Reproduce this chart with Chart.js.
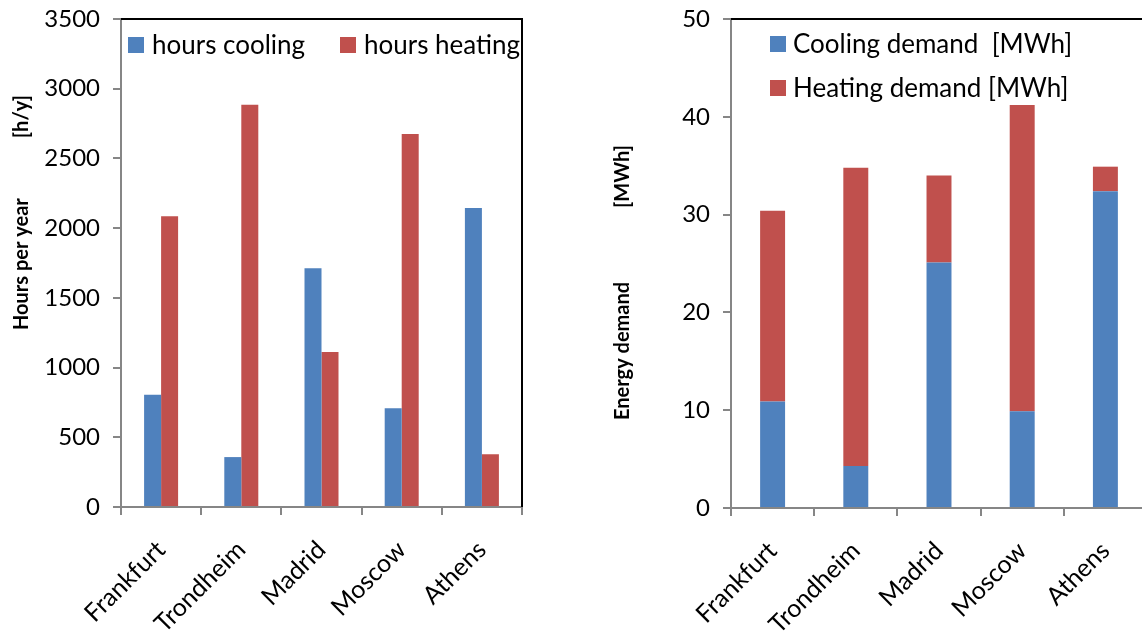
<!DOCTYPE html>
<html>
<head>
<meta charset="utf-8">
<script src="https://cdn.jsdelivr.net/npm/chart.js@4/dist/chart.umd.min.js"></script>
<style>
  html, body { margin: 0; padding: 0; background: #fff; overflow: hidden; width: 1142px; height: 634px; }
  .box { position: absolute; top: 0; height: 634px; }
  #hoursBox { left: 0; width: 545px; }
  #demandBox { left: 600px; width: 560px; }
</style>
</head>
<body>
<div id="hoursBox" class="box"><canvas id="hours"></canvas></div>
<div id="demandBox" class="box"><canvas id="demand"></canvas></div>
<script>
// Cities compared
const cities = ['Frankfurt', 'Trondheim', 'Madrid', 'Moscow', 'Athens'];

// Operating hours per year [h/y]
const hoursCooling = [805, 358, 1713, 709, 2145];
const hoursHeating = [2085, 2885, 1112, 2675, 379];
const hoursTicks = [0, 500, 1000, 1500, 2000, 2500, 3000, 3500];

// Annual energy demand [MWh]
const coolingDemand = [10.9, 4.3, 25.1, 9.9, 32.4];
const heatingDemand = [19.5, 30.5, 8.9, 31.3, 2.5];
const demandTicks = [0, 10, 20, 30, 40, 50];

const BLUE = '#4F81BD';
const RED = '#C0504D';
const AXIS = '#868686';
const FONT = 'Lato';

// Black frame along the top and right of the plot area
const framePlugin = {
  id: 'frame',
  afterDatasetsDraw(chart) {
    const { ctx, chartArea: a } = chart;
    ctx.save();
    ctx.strokeStyle = '#000';
    ctx.lineWidth = 2;
    ctx.beginPath();
    ctx.moveTo(a.left, a.top);
    ctx.lineTo(a.right, a.top);
    ctx.lineTo(a.right, a.bottom);
    ctx.stroke();
    ctx.restore();
  }
};

// Legend drawn inside the plot area
const innerLegend = {
  id: 'innerLegend',
  afterDraw(chart, args, o) {
    const ctx = chart.ctx;
    ctx.save();
    ctx.font = o.font;
    ctx.textBaseline = 'middle';
    ctx.textAlign = 'left';
    chart.data.datasets.forEach((ds, i) => {
      const it = o.items[i];
      ctx.fillStyle = ds.backgroundColor;
      ctx.fillRect(it.x, it.y, o.box, o.box);
      ctx.fillStyle = '#000';
      ctx.fillText(ds.label, it.x + o.gap, it.y + o.box / 2 + 1);
    });
    ctx.restore();
  }
};

// Rotated y-axis title: main text plus unit further up
const sideTitle = {
  id: 'sideTitle',
  afterDraw(chart, args, o) {
    const ctx = chart.ctx;
    ctx.save();
    ctx.font = o.font;
    ctx.fillStyle = '#000';
    ctx.textBaseline = 'middle';
    ctx.translate(o.x, o.bottom);
    ctx.rotate(-Math.PI / 2);
    ctx.textAlign = 'left';
    ctx.fillText(o.text, 0, 0);
    ctx.restore();
    ctx.save();
    ctx.font = o.font;
    ctx.fillStyle = '#000';
    ctx.textBaseline = 'middle';
    ctx.translate(o.x, o.top);
    ctx.rotate(-Math.PI / 2);
    ctx.textAlign = 'right';
    ctx.fillText(o.unit, 0, 0);
    ctx.restore();
  }
};

function yScale(ticksList, axisWidth) {
  return {
    min: ticksList[0],
    max: ticksList[ticksList.length - 1],
    afterBuildTicks(s) { s.ticks = ticksList.map(v => ({ value: v })); },
    ticks: {
      padding: 13, color: '#000', font: { family: FONT, size: 24 },
      callback: v => String(v)
    },
    grid: { drawOnChartArea: false, drawTicks: true, tickLength: 8, color: AXIS, lineWidth: 2 },
    border: { color: AXIS, width: 2 },
    afterFit(s) { s.width = axisWidth; s.paddingTop = 0; s.paddingBottom = 0; }
  };
}

function xScale(axisHeight, stacked) {
  return {
    stacked: stacked,
    ticks: { minRotation: 45, maxRotation: 45, autoSkip: false, padding: 20, color: '#000', font: { family: FONT, size: 25 } },
    grid: { offset: true, drawOnChartArea: false, drawTicks: true, tickLength: 8, color: AXIS, lineWidth: 2 },
    border: { color: AXIS, width: 2 },
    afterFit(s) { s.height = axisHeight; s.paddingLeft = 0; s.paddingRight = 0; }
  };
}

Chart.defaults.font.family = FONT;
Chart.defaults.color = '#000';

new Chart(document.getElementById('hours'), {
  type: 'bar',
  data: {
    labels: cities,
    datasets: [
      { label: 'hours cooling', data: hoursCooling, backgroundColor: BLUE },
      { label: 'hours heating', data: hoursHeating, backgroundColor: RED }
    ]
  },
  options: {
    responsive: true,
    maintainAspectRatio: false,
    animation: false,
    devicePixelRatio: 1,
    categoryPercentage: 0.424,
    barPercentage: 1,
    layout: { padding: { left: 0, top: 19, right: 23, bottom: 0 } },
    scales: {
      x: xScale(127, false),
      y: yScale(hoursTicks, 121)
    },
    plugins: {
      legend: { display: false },
      tooltip: { enabled: false },
      innerLegend: {
        font: '26px ' + FONT, box: 16, gap: 24,
        items: [{ x: 128, y: 37 }, { x: 340, y: 37 }]
      },
      sideTitle: {
        font: 'bold 20px ' + FONT, x: 22, bottom: 330, top: 95,
        text: 'Hours per year', unit: '[h/y]'
      }
    }
  },
  plugins: [framePlugin, innerLegend, sideTitle]
});

new Chart(document.getElementById('demand'), {
  type: 'bar',
  data: {
    labels: cities,
    datasets: [
      { label: 'Cooling demand  [MWh]', data: coolingDemand, backgroundColor: BLUE },
      { label: 'Heating demand [MWh]', data: heatingDemand, backgroundColor: RED }
    ]
  },
  options: {
    responsive: true,
    maintainAspectRatio: false,
    animation: false,
    devicePixelRatio: 1,
    categoryPercentage: 1,
    barPercentage: 0.3,
    layout: { padding: { left: 0, top: 19, right: 13, bottom: 0 } },
    scales: {
      x: xScale(126, true),
      y: Object.assign(yScale(demandTicks, 131), { stacked: true })
    },
    plugins: {
      legend: { display: false },
      tooltip: { enabled: false },
      innerLegend: {
        font: '26px ' + FONT, box: 16, gap: 23,
        items: [{ x: 170, y: 36 }, { x: 170, y: 80 }]
      },
      sideTitle: {
        font: 'bold 20px ' + FONT, x: 23, bottom: 420, top: 145,
        text: 'Energy demand', unit: '[MWh]'
      }
    }
  },
  plugins: [framePlugin, innerLegend, sideTitle]
});
</script>
</body>
</html>
